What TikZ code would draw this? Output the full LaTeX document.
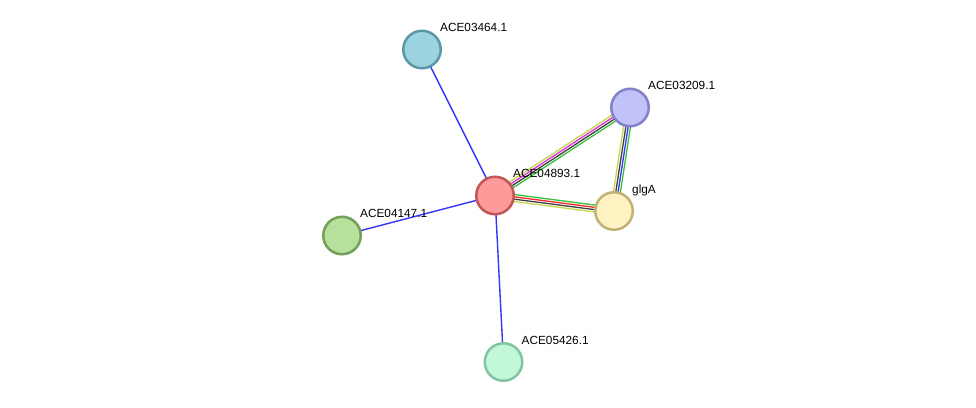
\documentclass[tikz,border=0pt]{standalone}
\usepackage{fontspec}
\setmainfont{Liberation Sans}
\usetikzlibrary{calc, backgrounds}
\definecolor{cblueline}{HTML}{3535F5}
\definecolor{cyellow}{HTML}{C4D84A}
\definecolor{cmagenta}{HTML}{E030D8}
\definecolor{cblack}{HTML}{404040}
\definecolor{cgreen}{HTML}{38C038}
\definecolor{cred}{HTML}{F02828}
\definecolor{fcyan}{HTML}{9CD3E0}   \definecolor{dcyan}{HTML}{5A98A6}
\definecolor{flilac}{HTML}{C2C2FA}  \definecolor{dlilac}{HTML}{8282C6}
\definecolor{frose}{HTML}{FF9A9A}   \definecolor{drose}{HTML}{C05656}
\definecolor{fcream}{HTML}{FFF2C2}  \definecolor{dcream}{HTML}{C0B276}
\definecolor{fleaf}{HTML}{B6E09C}   \definecolor{dleaf}{HTML}{72A058}
\definecolor{fmint}{HTML}{C2F8D8}   \definecolor{dmint}{HTML}{82C4A2}
\tikzset{
  every picture/.style={x=1pt, y=-1pt},
  prot/.style 2 args={circle, draw=#2, fill=#1, line width=2.5pt, minimum size=37.5pt, inner sep=0pt},
  tag/.style={anchor=base west, font=\fontsize{11.8}{14}\selectfont, inner sep=0pt},
  edge/.style={draw=cblueline, line width=1.4pt},
  strand/.style={line width=1.3pt},
}
% protein node plus its name, shifted up and right
\newcommand{\protein}[6]{%
  \node[prot={#4}{#5}] (#1) at (#2,#3) {};
  \node[tag] (#1t) at ($(#1.center)+(18,-18)$) {#6};
}
% bundle of coloured evidence lines between two proteins
\newcommand{\bundle}[3]{%
  \foreach \col [count=\k] in {#3} {
    \pgfmathsetmacro{\off}{(\k-2.5)*2.3}
    \draw[strand, draw=\col] ($(#1.center)!\off pt!90:(#2.center)$) -- ($(#2.center)!\off pt!-90:(#1.center)$);
  }
}

\begin{document}
\begin{tikzpicture}
  \useasboundingbox (0,0) rectangle (976,407);
  \protein{p3464}{422}{49.5}{fcyan}{dcyan}{ACE03464.1}
  \protein{p3209}{630}{107.5}{flilac}{dlilac}{ACE03209.1}
  \protein{p4893}{495}{195.5}{frose}{drose}{ACE04893.1}
  \protein{glgA}{614}{211}{fcream}{dcream}{glgA}
  \protein{p4147}{342}{235.5}{fleaf}{dleaf}{ACE04147.1}
  \protein{p5426}{503.5}{362}{fmint}{dmint}{ACE05426.1}
  \begin{scope}[on background layer]
    \draw[edge] (p4893.center) -- (p3464.center);
    \draw[edge] (p4893.center) -- (p4147.center);
    \draw[edge] (p4893.center) -- (p5426.center);
    \bundle{p4893}{p3209}{cgreen,cblack,cmagenta,cyellow}
    \bundle{p4893}{glgA}{cyellow,cblack,cred,cgreen}
    \bundle{p3209}{glgA}{cyellow,cblack,cblueline,cgreen}
  \end{scope}
\end{tikzpicture}
\end{document}
